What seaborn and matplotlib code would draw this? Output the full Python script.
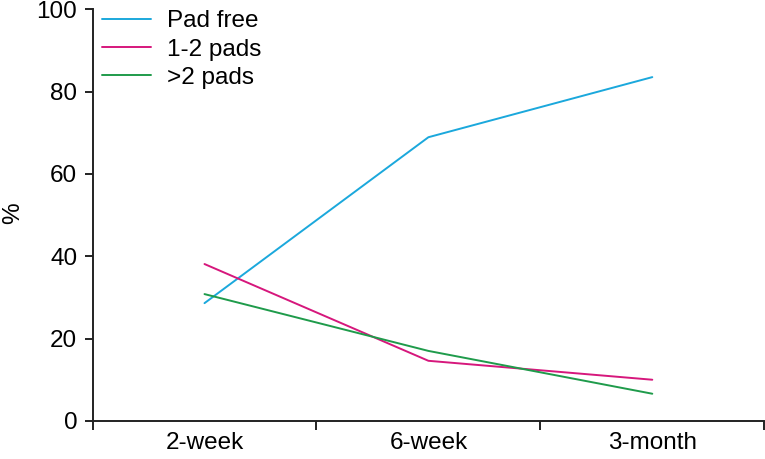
import pandas as pd
import seaborn as sns
import matplotlib.pyplot as plt
from matplotlib.ticker import FixedLocator, NullFormatter

# values
periods = ["2-week", "6-week", "3-month"]
pad_free = [28.6, 68.9, 83.5]
pads_1_2 = [38.1, 14.6, 10.0]
pads_over_2 = [30.8, 17.0, 6.6]
series_names = ["Pad free", "1-2 pads", ">2 pads"]
colors = ["#1BA8DC", "#D6177C", "#1F9B4B"]

df = pd.DataFrame({
    "period": periods * 3,
    "value": pad_free + pads_1_2 + pads_over_2,
    "group": [n for n in series_names for _ in periods],
})

sns.set_style("ticks")
plt.rcParams["font.family"] = ["Liberation Sans", "DejaVu Sans"]
plt.rcParams["text.color"] = "black"
plt.rcParams["xtick.color"] = "#222222"
plt.rcParams["ytick.color"] = "#222222"
plt.rcParams["xtick.labelcolor"] = "black"
plt.rcParams["ytick.labelcolor"] = "black"
plt.rcParams["axes.labelcolor"] = "black"

fig = plt.figure(figsize=(7.65, 4.59), dpi=100)
ax = fig.add_axes([0.121, 0.083, 0.878, 0.897])

sns.lineplot(data=df, x="period", y="value", hue="group", palette=colors,
             hue_order=series_names, linewidth=1.4, ax=ax, sort=False)

ax.set_xlim(-0.5, 2.5)
ax.set_ylim(0, 100)
ax.set_yticks([0, 20, 40, 60, 80, 100])
ax.set_ylabel("%", fontsize=17.5, va="center")
ax.yaxis.set_label_coords(-0.118, 0.505)
ax.set_xlabel("")

# category boundaries as major ticks, labels on minor ticks
ax.xaxis.set_major_locator(FixedLocator([-0.5, 0.5, 1.5, 2.5]))
ax.xaxis.set_major_formatter(NullFormatter())
ax.xaxis.set_minor_locator(FixedLocator([0, 1, 2]))
ax.set_xticklabels(periods, minor=True)
ax.tick_params(axis="x", which="minor", length=0, labelsize=17.5, pad=8)
ax.tick_params(axis="x", which="major", length=6.5, width=1.4, direction="out")
ax.tick_params(axis="y", length=6, width=1.4, labelsize=17.5, pad=5)

for side in ["left", "bottom"]:
    ax.spines[side].set_linewidth(1.4)
    ax.spines[side].set_color("#222222")
ax.spines["top"].set_visible(False)
ax.spines["right"].set_visible(False)

leg = ax.legend(loc="upper left", bbox_to_anchor=(-0.018, 1.05), frameon=False,
                fontsize=17.5, handlelength=2.0, handletextpad=0.65,
                labelspacing=0.25, borderaxespad=0.5)

fig.savefig("out.png", dpi=100)
